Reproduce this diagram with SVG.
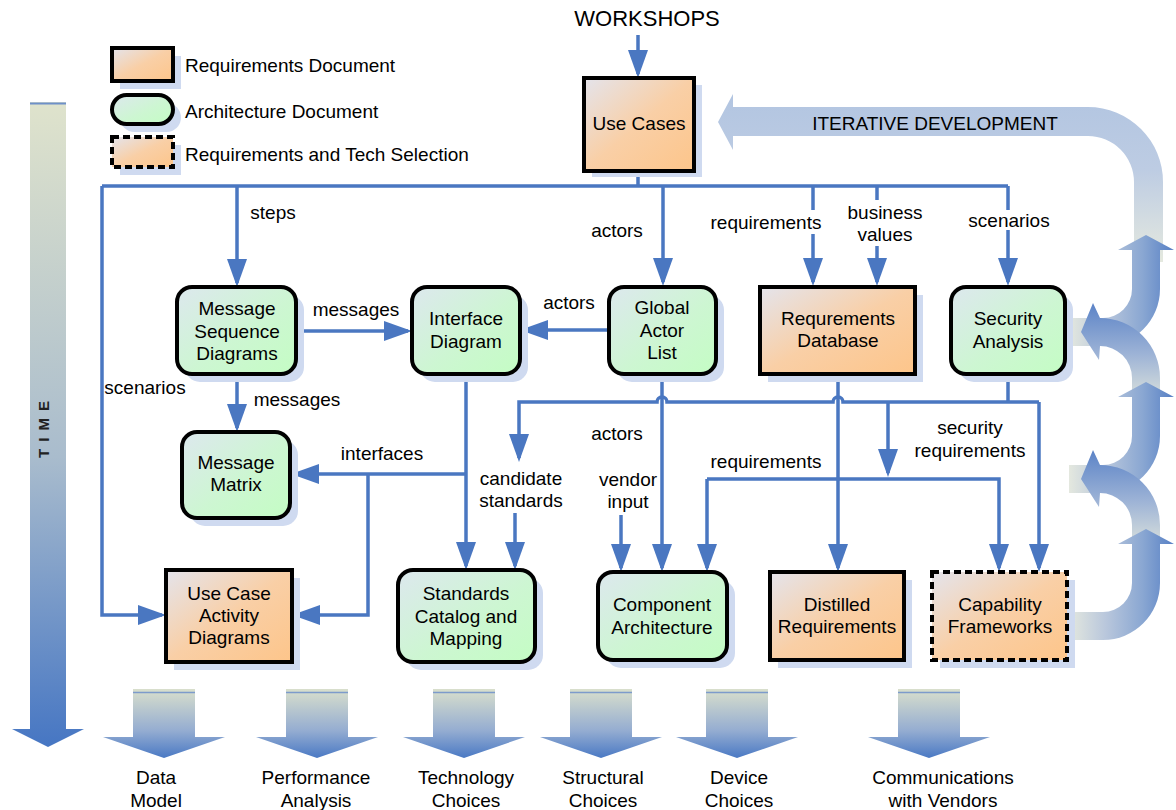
<svg xmlns="http://www.w3.org/2000/svg" xmlns:xlink="http://www.w3.org/1999/xlink" width="1176" height="810" viewBox="0 0 1176 810">
<style>
text{font-family:"Liberation Sans",Arial,sans-serif;font-size:19px;fill:#000}
.c{text-anchor:middle}
.req{fill:url(#gReq);stroke:#000;stroke-width:4}
.arch{fill:url(#gArch);stroke:#000;stroke-width:4}
.tech{fill:url(#gReq);stroke:#000;stroke-width:4;stroke-dasharray:7 4}
.sh{fill:#cfdaf0}
.ln{fill:none;stroke:#4a77c1;stroke-width:3.5}
.arr{marker-end:url(#ah)}
.bg{fill:#fff}
.topline{stroke:#7d9bcb;stroke-width:1.6}
</style>
<defs>
<linearGradient id="gReq" x1="0" y1="0" x2="1" y2="1"><stop offset="0" stop-color="#e4e4ec"/><stop offset="0.5" stop-color="#f9cfa6"/><stop offset="1" stop-color="#fdc58a"/></linearGradient>
<linearGradient id="gArch" x1="0" y1="0" x2="1" y2="1"><stop offset="0" stop-color="#dde8ee"/><stop offset="0.55" stop-color="#cdf6d2"/><stop offset="1" stop-color="#c4fdc4"/></linearGradient>
<linearGradient id="gTime" x1="0" y1="0" x2="0" y2="1"><stop offset="0" stop-color="#dfe3cc"/><stop offset="0.55" stop-color="#a9bccd"/><stop offset="1" stop-color="#4676c3"/></linearGradient>
<linearGradient id="gDown" x1="0" y1="0" x2="0" y2="1"><stop offset="0" stop-color="#d9dfcc"/><stop offset="0.6" stop-color="#95add1"/><stop offset="1" stop-color="#4a79c4"/></linearGradient>
<linearGradient id="gIter" gradientUnits="userSpaceOnUse" x1="0" y1="93" x2="0" y2="262"><stop offset="0" stop-color="#b2c5e1"/><stop offset="0.45" stop-color="#bdcce3"/><stop offset="1" stop-color="#e5e9df"/></linearGradient>
<linearGradient id="gUp" x1="0" y1="0" x2="1" y2="0"><stop offset="0" stop-color="#e4e8df"/><stop offset="0.35" stop-color="#b9c7dc"/><stop offset="0.7" stop-color="#8aa7d2"/><stop offset="1" stop-color="#5780c5"/></linearGradient>
<linearGradient id="gLeft" x1="0" y1="0" x2="0" y2="1"><stop offset="0" stop-color="#5b83c7"/><stop offset="0.5" stop-color="#9db3d6"/><stop offset="1" stop-color="#e2e7dd"/></linearGradient>
<marker id="ah" markerUnits="userSpaceOnUse" markerWidth="28" markerHeight="20" refX="24" refY="10" orient="auto"><path d="M0,0 L28,10 L0,20 Z" fill="#4a77c1"/></marker>
<g id="down"><path d="M-31,689 L31,689 L31,737 L61,737 L0,758 L-61,737 L-31,737 Z" fill="url(#gDown)"/><path class="topline" d="M-31,692.5 H31"/></g>
</defs>
<rect width="1176" height="810" fill="#fff"/>

<g id="time-arrow">
<path d="M30,102 L66,102 L66,729 L84,729 L48,747 L12,729 L30,729 Z" fill="url(#gTime)"/>
<path d="M30,103.5 H66" stroke="#6e90c8" stroke-width="2"/>
<text transform="translate(49,426) rotate(-90)" text-anchor="middle" style="font-size:15px;font-weight:bold;letter-spacing:7px;fill:#222">TIME</text>
</g>

<g id="outputs">
<use xlink:href="#down" x="164"/>
<use xlink:href="#down" x="317"/>
<use xlink:href="#down" x="464"/>
<use xlink:href="#down" x="601"/>
<use xlink:href="#down" x="737"/>
<use xlink:href="#down" x="929"/>
<text class="c" x="156" y="784">Data</text><text class="c" x="156" y="807">Model</text>
<text class="c" x="316" y="784">Performance</text><text class="c" x="316" y="807">Analysis</text>
<text class="c" x="466" y="784">Technology</text><text class="c" x="466" y="807">Choices</text>
<text class="c" x="603" y="784">Structural</text><text class="c" x="603" y="807">Choices</text>
<text class="c" x="739" y="784">Device</text><text class="c" x="739" y="807">Choices</text>
<text class="c" x="943" y="784">Communications</text><text class="c" x="943" y="807">with Vendors</text>
</g>

<g id="iteration">
<path d="M718,122 L733,94 L733,107 L1088,107 A75,75 0 0 1 1163,182 L1163,262 L1134,262 L1134,182 A46,46 0 0 0 1088,136 L733,136 L733,150 Z" fill="url(#gIter)"/>
<text class="c" x="935" y="130">ITERATIVE DEVELOPMENT</text>
<path d="M1069,318 L1103,318 A29,29 0 0 0 1132,289 L1132,250 L1118,250 L1146,235 L1174,250 L1160,250 L1160,289 A57,57 0 0 1 1103,346 L1069,346 Z" fill="url(#gUp)"/>
<path d="M1132,405 L1132,378 A32,32 0 0 0 1100,346 L1099,360 L1081,332 L1093,303 L1100,318 A60,60 0 0 1 1160,378 L1160,405 Z" fill="url(#gLeft)"/>
<path d="M1069,465 L1103,465 A29,29 0 0 0 1132,436 L1132,397 L1118,397 L1146,382 L1174,397 L1160,397 L1160,436 A57,57 0 0 1 1103,493 L1069,493 Z" fill="url(#gUp)"/>
<path d="M1132,552 L1132,525 A32,32 0 0 0 1100,493 L1099,507 L1081,479 L1093,450 L1100,465 A60,60 0 0 1 1160,525 L1160,552 Z" fill="url(#gLeft)"/>
<path d="M1069,612 L1103,612 A29,29 0 0 0 1132,583 L1132,544 L1118,544 L1146,529 L1174,544 L1160,544 L1160,583 A57,57 0 0 1 1103,640 L1069,640 Z" fill="url(#gUp)"/>
</g>

<g id="legend">
<rect class="sh" x="120" y="56" width="61" height="33"/>
<rect class="req" x="112" y="48" width="61" height="33"/>
<text x="185" y="72">Requirements Document</text>
<rect class="sh" x="120" y="103" width="61" height="29" rx="14.5"/>
<rect class="arch" x="112" y="95" width="61" height="29" rx="14.5"/>
<text x="185" y="118">Architecture Document</text>
<rect class="sh" x="120" y="145" width="61" height="30"/>
<rect class="tech" x="112" y="137" width="61" height="30"/>
<text x="185" y="161">Requirements and Tech Selection</text>
</g>

<g id="connectors">
<path class="ln arr" d="M638,35 L638,74"/>
<path class="ln" d="M638,170 L638,186 M102,186 L1008,186"/>
<path class="ln arr" d="M102,186 L102,615 L162,615"/>
<path class="ln arr" d="M237,186 L237,283"/>
<path class="ln arr" d="M663,186 L663,282"/>
<path class="ln arr" d="M813,186 L813,282"/>
<path class="ln arr" d="M877,186 L877,282"/>
<path class="ln arr" d="M1008,186 L1008,282"/>
<path class="ln arr" d="M296,331 L408,331"/>
<path class="ln arr" d="M609,330 L524,330"/>
<path class="ln arr" d="M237,374 L237,428"/>
<path class="ln arr" d="M466,374 L466,566"/>
<path class="ln arr" d="M466,474 L295,474"/>
<path class="ln arr" d="M368,474 L368,615 L296,615"/>
<path class="ln arr" d="M662,374 L662,568"/>
<path class="ln" d="M1008,374 L1008,402"/>
<path class="ln arr" d="M1039,402 L843,402 A5,5 0 0 0 833,402 L667,402 A5,5 0 0 0 657,402 L519,402 L519,458"/>
<path class="ln arr" d="M1039,402 L1039,568"/>
<path class="ln arr" d="M888,402 L888,473"/>
<path class="ln arr" d="M707,479 L707,568"/>
<path class="ln arr" d="M707,479 L999,479 L999,568"/>
<path class="ln arr" d="M838,374 L838,568"/>
<path class="ln arr" d="M515,513 L515,566"/>
<path class="ln arr" d="M621,515 L621,568"/>
</g>

<g id="labels">
<text class="c" x="647" y="26" style="font-size:22px">WORKSHOPS</text>
<text class="c" x="273" y="219">steps</text>
<text class="c" x="617" y="237">actors</text>
<rect class="bg" x="709" y="210" width="114" height="24"/>
<text class="c" x="766" y="229">requirements</text>
<rect class="bg" x="845" y="200" width="80" height="46"/>
<text class="c" x="885" y="219">business</text>
<text class="c" x="885" y="241">values</text>
<rect class="bg" x="967" y="210" width="84" height="20"/>
<text class="c" x="1009" y="227">scenarios</text>
<text class="c" x="356" y="316">messages</text>
<text class="c" x="569" y="309">actors</text>
<text class="c" x="145" y="394">scenarios</text>
<text class="c" x="297" y="406">messages</text>
<text class="c" x="382" y="460">interfaces</text>
<text class="c" x="617" y="440">actors</text>
<text class="c" x="521" y="485">candidate</text>
<text class="c" x="521" y="507">standards</text>
<text class="c" x="628" y="486">vendor</text>
<text class="c" x="628" y="508">input</text>
<text class="c" x="766" y="468">requirements</text>
<text class="c" x="970" y="434">security</text>
<text class="c" x="970" y="457">requirements</text>
</g>

<g id="use-cases">
<rect class="sh" x="592" y="85" width="110" height="92"/>
<rect class="req" x="584" y="78" width="110" height="93"/>
<text class="c" x="639" y="130">Use Cases</text>
</g>
<g id="message-sequence-diagrams">
<rect class="sh" x="185" y="295" width="119" height="87" rx="15"/>
<rect class="arch" x="177" y="287" width="119" height="87" rx="15"/>
<text class="c" x="237" y="315">Message</text><text class="c" x="237" y="337.5">Sequence</text><text class="c" x="237" y="360">Diagrams</text>
</g>
<g id="interface-diagram">
<rect class="sh" x="420" y="295" width="108" height="87" rx="15"/>
<rect class="arch" x="412" y="287" width="108" height="87" rx="15"/>
<text class="c" x="466" y="325">Interface</text><text class="c" x="466" y="348">Diagram</text>
</g>
<g id="global-actor-list">
<rect class="sh" x="617" y="295" width="107" height="87" rx="15"/>
<rect class="arch" x="609" y="287" width="107" height="87" rx="15"/>
<text class="c" x="662" y="314">Global</text><text class="c" x="662" y="337">Actor</text><text class="c" x="662" y="359">List</text>
</g>
<g id="requirements-database">
<rect class="sh" x="768" y="295" width="155" height="87"/>
<rect class="req" x="760" y="287" width="155" height="87"/>
<text class="c" x="838" y="325">Requrements</text><text class="c" x="838" y="347">Database</text>
</g>
<g id="security-analysis">
<rect class="sh" x="959" y="295" width="114" height="87" rx="15"/>
<rect class="arch" x="951" y="287" width="114" height="87" rx="15"/>
<text class="c" x="1008" y="325">Security</text><text class="c" x="1008" y="348">Analysis</text>
</g>
<g id="message-matrix">
<rect class="sh" x="190" y="440" width="108" height="86" rx="15"/>
<rect class="arch" x="182" y="432" width="108" height="86" rx="15"/>
<text class="c" x="236" y="469">Message</text><text class="c" x="236" y="491">Matrix</text>
</g>
<g id="use-case-activity-diagrams">
<rect class="sh" x="174" y="578" width="126" height="92"/>
<rect class="req" x="166" y="570" width="126" height="92"/>
<text class="c" x="229" y="600">Use Case</text><text class="c" x="229" y="622">Activity</text><text class="c" x="229" y="644">Diagrams</text>
</g>
<g id="standards-catalog">
<rect class="sh" x="406" y="578" width="137" height="92" rx="15"/>
<rect class="arch" x="398" y="570" width="137" height="92" rx="15"/>
<text class="c" x="466" y="600">Standards</text><text class="c" x="466" y="623">Catalog and</text><text class="c" x="466" y="645">Mapping</text>
</g>
<g id="component-architecture">
<rect class="sh" x="606" y="580" width="129" height="88" rx="15"/>
<rect class="arch" x="598" y="572" width="129" height="88" rx="15"/>
<text class="c" x="662" y="611">Component</text><text class="c" x="662" y="634">Architecture</text>
</g>
<g id="distilled-requirements">
<rect class="sh" x="778" y="580" width="134" height="88"/>
<rect class="req" x="770" y="572" width="134" height="88"/>
<text class="c" x="837" y="611">Distilled</text><text class="c" x="837" y="633">Requirements</text>
</g>
<g id="capability-frameworks">
<rect class="sh" x="940" y="580" width="135" height="88"/>
<rect class="tech" x="932" y="572" width="135" height="88"/>
<text class="c" x="1000" y="611">Capability</text><text class="c" x="1000" y="633">Frameworks</text>
</g>
</svg>
